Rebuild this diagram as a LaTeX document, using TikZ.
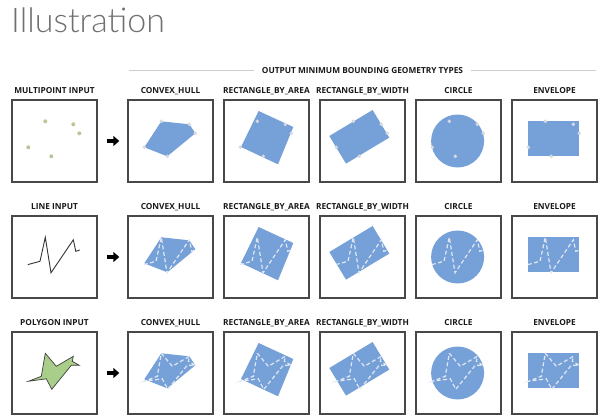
\documentclass[tikz,border=0pt]{standalone}
\usepackage{fontspec}
\setmainfont{Open Sans}
\IfFontExistsTF{Lato Light}{\newfontfamily\titlefont{Lato Light}}{\newfontfamily\titlefont{Lato}}
\usetikzlibrary{arrows.meta}
\definecolor{bfill}{RGB}{118,161,216}
\definecolor{boxline}{RGB}{72,72,72}
\definecolor{gdot}{RGB}{182,200,152}
\definecolor{pdot}{RGB}{214,218,224}
\definecolor{dashc}{RGB}{224,231,241}
\definecolor{pfill}{RGB}{168,206,138}
\definecolor{hlinec}{RGB}{205,205,205}
\definecolor{titlec}{RGB}{112,112,112}
\begin{document}
\begin{tikzpicture}[x=1pt,y=-1pt,
  box/.style={draw=boxline, line width=1.4pt, minimum width=85pt, minimum height=82pt, inner sep=0pt},
  lab/.style={font=\bfseries\fontsize{8.3}{10}\selectfont, inner sep=0pt, anchor=base, text=black!90},
  hrule/.style={draw=hlinec, line width=1pt},
  bigarrow/.style={line width=3.6pt, -{Triangle[length=6pt,width=10pt]}, shorten <=9pt, shorten >=8pt},
  dashline/.style={draw=dashc, line width=1.2pt, dash pattern=on 4pt off 2.5pt},
  inline/.style={draw=black!80, line width=0.9pt, line join=miter},
  inpoly/.style={fill=pfill, draw=black!75, line width=0.7pt, line join=miter}]
\useasboundingbox (0,0) rectangle (600,418);
\fill[white] (0,0) rectangle (600,418);
% title
\node[anchor=base west, inner sep=0pt, font=\titlefont\fontsize{34}{34}\selectfont, text=titlec] (title) at (11,32) {Illustration};
% header
\node[lab] (hdr) at (362.5,73) {OUTPUT MINIMUM BOUNDING GEOMETRY TYPES};
\coordinate (hl) at (129,70);
\coordinate (hr) at (596,70);
\draw[hrule, shorten >=8pt] (hl) -- (hdr.west |- hl);
\draw[hrule, shorten >=8pt] (hr) -- (hdr.east |- hr);
% boxes
\foreach \r/\y in {1/141,2/257,3/373}{
  \foreach \c/\x in {0/54.5,1/170.5,2/266.5,3/362.5,4/458.5,5/554.5}{
    \node[box] (b\r\c) at (\x,\y) {};
  }
}
% labels
\foreach \r/\y in {1/93.5,2/209.5,3/325.5}{
  \node[lab] (t\r1) at (170.5,\y) {CONVEX\_HULL};
  \node[lab] (t\r2) at (266.5,\y) {RECTANGLE\_BY\_AREA};
  \node[lab] (t\r3) at (362.5,\y) {RECTANGLE\_BY\_WIDTH};
  \node[lab] (t\r4) at (458.5,\y) {CIRCLE};
  \node[lab] (t\r5) at (554.5,\y) {ENVELOPE};
}
\node[lab] (t10) at (54.5,93.5) {MULTIPOINT INPUT};
\node[lab] (t20) at (54.5,209.5) {LINE INPUT};
\node[lab] (t30) at (54.5,325.5) {POLYGON INPUT};
% arrows
\foreach \r in {1,2,3}{
  \draw[bigarrow] (b\r0) -- (b\r1);
}
% inputs
\begin{scope}[shift={(b10.north west)}]
  \foreach \px/\py in {34/22,62/25,68/34,17/48,40/57} \fill[gdot] (\px,\py) circle (2pt);
\end{scope}
\begin{scope}[shift={(b20.north west)}]
  \draw[inline] (16.5,49.3) -- (28.7,46) -- (34,22) -- (39.7,57.5) -- (62,24.5) -- (64.5,36) -- (68.5,34.7);
\end{scope}
\begin{scope}[shift={(b30.north west)}]
  \path[inpoly] (34,22) -- (45,35) -- (62,25) -- (61,30) -- (68,34) -- (60,34) -- (40.5,58) -- (35,47.5) -- (17,50) -- (30,45) -- cycle;
\end{scope}
% output shapes
\foreach \r in {1,2,3}{
  \begin{scope}[shift={(b\r1.north west)}]
    \fill[bfill] (34,22) -- (62,25) -- (68,34) -- (40,57) -- (17,48) -- cycle;
  \end{scope}
  \begin{scope}[shift={(b\r2.north west)}]
    \fill[bfill] (35.3,11.7) -- (70,27.7) -- (54.7,65) -- (17.7,47.7) -- cycle;
  \end{scope}
  \begin{scope}[shift={(b\r3.north west)}]
    \fill[bfill] (53.3,10.7) -- (70,38.3) -- (26.7,64.3) -- (10,36.7) -- cycle;
  \end{scope}
  \begin{scope}[shift={(b\r4.north west)}]
    \fill[bfill] (42.3,41.7) circle (26.5pt);
  \end{scope}
  \begin{scope}[shift={(b\r5.north west)}]
    \fill[bfill] (17,22) rectangle (68,57);
  \end{scope}
}
% overlays
\foreach \c in {1,...,5}{
  \begin{scope}[shift={(b1\c.north west)}]
    \foreach \px/\py in {34/22,62/25,68/34,17/48,40/57} \fill[pdot] (\px,\py) circle (1.9pt);
  \end{scope}
  \begin{scope}[shift={(b2\c.north west)}]
    \draw[dashline] (16.5,49.3) -- (28.7,46) -- (34,22) -- (39.7,57.5) -- (62,24.5) -- (64.5,36) -- (68.5,34.7);
  \end{scope}
  \begin{scope}[shift={(b3\c.north west)}]
    \draw[dashline] (34,22) -- (45,35) -- (62,25) -- (61,30) -- (68,34) -- (60,34) -- (40.5,58) -- (35,47.5) -- (17,50) -- (30,45) -- cycle;
  \end{scope}
}
\end{tikzpicture}
\end{document}
